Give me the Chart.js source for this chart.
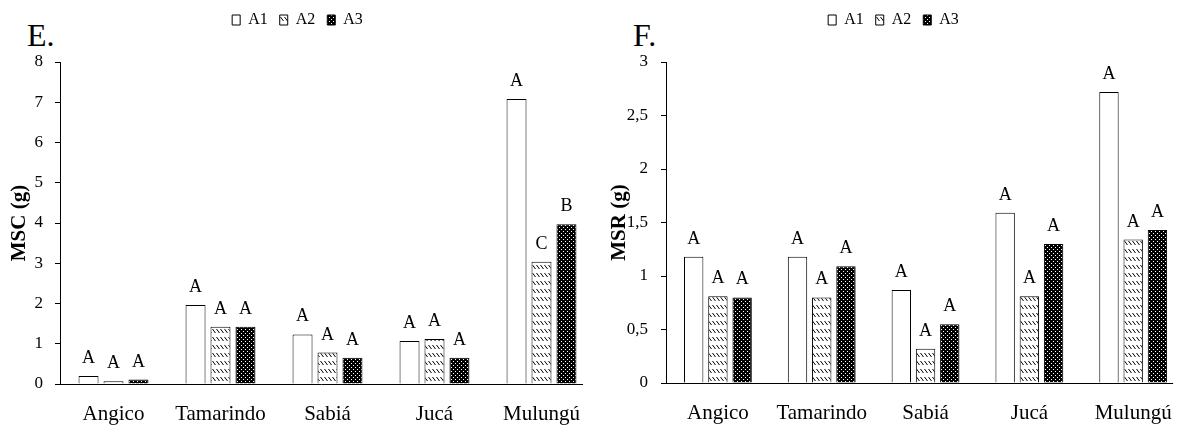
<!DOCTYPE html>
<html>
<head>
<meta charset="utf-8">
<script src="https://cdn.jsdelivr.net/npm/chart.js@4.4.1/dist/chart.umd.min.js"></script>
<style>
  html, body { margin: 0; padding: 0; background: #fff; overflow: hidden; width: 1184px; height: 432px; }
  canvas { position: absolute; top: 0; }
  #c1 { left: 0; }
  #c2 { left: 600px; }
  .panel { position: absolute; font-family: "Liberation Serif", serif; font-size: 32px; line-height: 32px; color: #000; }
</style>
</head>
<body>
<div class="panel" style="left:27px; top:19px;">E.</div>
<div class="panel" style="left:633px; top:19px;">F.</div>
<canvas id="c1" width="600" height="432"></canvas>
<canvas id="c2" width="590" height="432"></canvas>
<script>
// ---------- data ----------
const categories = ['Angico', 'Tamarindo', 'Sabiá', 'Jucá', 'Mulungú'];
const seriesNames = ['A1', 'A2', 'A3'];

// Panel E: MSC (g)
const mscA1 = [0.20, 1.96, 1.23, 1.07, 7.08];
const mscA2 = [0.07, 1.42, 0.78, 1.12, 3.04];
const mscA3 = [0.11, 1.42, 0.65, 0.65, 3.97];
const mscLettersA1 = ['A', 'A', 'A', 'A', 'A'];
const mscLettersA2 = ['A', 'A', 'A', 'A', 'C'];
const mscLettersA3 = ['A', 'A', 'A', 'A', 'B'];
const mscTickLabels = ['0', '1', '2', '3', '4', '5', '6', '7', '8'];

// Panel F: MSR (g)
const msrA1 = [1.18, 1.18, 0.87, 1.59, 2.72];
const msrA2 = [0.81, 0.80, 0.32, 0.81, 1.34];
const msrA3 = [0.80, 1.09, 0.55, 1.30, 1.43];
const msrLettersA1 = ['A', 'A', 'A', 'A', 'A'];
const msrLettersA2 = ['A', 'A', 'A', 'A', 'A'];
const msrLettersA3 = ['A', 'A', 'A', 'A', 'A'];
const msrTickLabels = ['0', '0,5', '1', '1,5', '2', '2,5', '3'];

// ---------- patterns ----------
function hatchPattern(ctx) {
  const t = document.createElement('canvas');
  t.width = 4; t.height = 8;
  const c = t.getContext('2d');
  c.fillStyle = '#fff'; c.fillRect(0, 0, 4, 8);
  c.strokeStyle = '#000'; c.lineWidth = 1;
  c.beginPath(); c.moveTo(0.5, 1); c.lineTo(3.5, 5); c.stroke();
  return ctx.createPattern(t, 'repeat');
}
function dotPattern(ctx) {
  const t = document.createElement('canvas');
  t.width = 4; t.height = 4;
  const c = t.getContext('2d');
  c.fillStyle = '#000'; c.fillRect(0, 0, 4, 4);
  c.fillStyle = '#fff';
  c.fillRect(1, 1, 1, 1); c.fillRect(3, 3, 1, 1);
  return ctx.createPattern(t, 'repeat');
}

const FONT = '"Liberation Serif", "Times New Roman", serif';

function annotPlugin(letters) {
  return {
    id: 'annot',
    afterDatasetsDraw(chart) {
      const ctx = chart.ctx;
      ctx.save();
      ctx.font = '18px ' + FONT;
      ctx.fillStyle = '#000';
      ctx.textAlign = 'center';
      ctx.textBaseline = 'alphabetic';
      letters.forEach((arr, di) => {
        chart.getDatasetMeta(di).data.forEach((el, i) => {
          ctx.fillText(arr[i], el.x, el.y - 13);
        });
      });
      const a = chart.chartArea;
      ctx.strokeStyle = '#000';
      ctx.lineWidth = 1;
      ctx.beginPath();
      ctx.moveTo(a.left, Math.round(a.bottom) + 0.5);
      ctx.lineTo(a.right - 12, Math.round(a.bottom) + 0.5);
      ctx.stroke();
      ctx.restore();
    }
  };
}

function makeChart(id, vals, letters, yTitle, yMax, yStep, tickLabels, yWidth, xHeight, padRight, tickPad) {
  const canvas = document.getElementById(id);
  const ctx = canvas.getContext('2d');
  const fills = ['#ffffff', hatchPattern(ctx), dotPattern(ctx)];
  return new Chart(ctx, {
    type: 'bar',
    data: {
      labels: categories,
      datasets: seriesNames.map((n, i) => ({
        label: n,
        data: vals[i],
        backgroundColor: fills[i],
        borderColor: '#000',
        borderWidth: 1,
        categoryPercentage: 0.7,
        barPercentage: 0.8
      }))
    },
    options: {
      responsive: false,
      animation: false,
      layout: { padding: { top: 0, left: 0, right: padRight, bottom: 0 } },
      plugins: {
        legend: {
          display: true,
          position: 'top',
          labels: {
            boxWidth: 8,
            boxHeight: 10,
            padding: 12,
            color: '#000',
            font: { family: FONT, size: 16 }
          }
        },
        title: {
          display: true,
          text: '',
          weight: 500,
          padding: { top: 0, bottom: 0 },
          font: { size: 24, lineHeight: 1 }
        },
        tooltip: { enabled: false }
      },
      scales: {
        x: {
          grid: { display: false, drawTicks: false },
          border: { display: false },
          ticks: { color: '#000', padding: 18, font: { family: FONT, size: 21 } },
          afterFit(s) { s.height = xHeight; }
        },
        y: {
          min: 0,
          max: yMax,
          ticks: {
            stepSize: yStep,
            color: '#000',
            padding: tickPad,
            font: { family: FONT, size: 17 },
            callback: (v, i) => tickLabels[i]
          },
          grid: { drawOnChartArea: false, drawTicks: true, tickLength: 5, color: '#000' },
          border: { display: true, color: '#000', width: 1 },
          title: {
            display: true,
            text: yTitle,
            color: '#000',
            padding: { top: 7, bottom: 0 },
            font: { family: FONT, size: 21, weight: 'bold' }
          },
          afterFit(s) { s.width = yWidth; }
        }
      }
    },
    plugins: [annotPlugin(letters)]
  });
}

makeChart('c1', [mscA1, mscA2, mscA3], [mscLettersA1, mscLettersA2, mscLettersA3],
  'MSC (g)', 8, 1, mscTickLabels, 60, 48, 5, 12);
makeChart('c2', [msrA1, msrA2, msrA3], [msrLettersA1, msrLettersA2, msrLettersA3],
  'MSR (g)', 3, 0.5, msrTickLabels, 66, 49, 3, 13);
</script>
</body>
</html>
